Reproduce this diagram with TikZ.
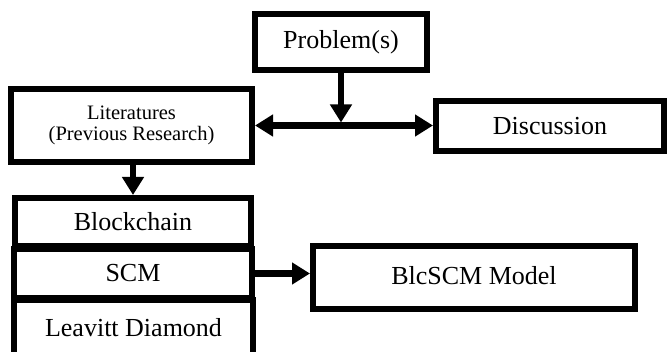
\documentclass[tikz,border=0pt]{standalone}
\usepackage{fontspec}
\setmainfont{Liberation Serif}
\usetikzlibrary{arrows.meta}
\begin{document}
\begin{tikzpicture}[x=1pt,y=1pt,
  box/.style={draw=black,line width=6pt,fill=white,rectangle,inner sep=0pt,
    font=\fontsize{26}{28}\selectfont},
  conn/.style={line width=6.5pt,-{Triangle[length=18pt,width=21pt]}},
  dconn/.style={line width=6.5pt,{Triangle[length=18pt,width=21pt]}-{Triangle[length=18pt,width=21pt]}}]
  \useasboundingbox (0,0) rectangle (667,-352);
  \clip (0,0) rectangle (667,-352);

  % top row
  \node[box,minimum width=172pt,minimum height=56pt] (prob) at (341,-42)
        {\raisebox{-3pt}{Problem(s)}};
  \node[box,minimum width=241pt,minimum height=73pt,align=center,
        font=\fontsize{20.5}{21}\selectfont] (lit) at (131.5,-125.5)
        {Literatures\\(Previous Research)};
  \node[box,minimum width=228pt,minimum height=50pt] (disc) at (550,-126)
        {\raisebox{-2.5pt}{Discussion}};

  % stacked topics
  \node[box,minimum width=236pt,minimum height=48pt] (blk) at (133,-222)
        {\raisebox{-2pt}{Blockchain}};
  \node[box,minimum width=238pt,minimum height=49pt] (scm) at (133,-273.5) {SCM};
  \node[box,minimum width=239pt,minimum height=58pt,text depth=0pt] (ld) at (133.5,-329)
        {\raisebox{4pt}{Leavitt Diamond}};

  % resulting model
  \node[box,minimum width=322pt,minimum height=63pt] (model) at (474,-277.5)
        {\raisebox{4pt}{BlcSCM Model}};

  % connectors
  \coordinate (junc) at (prob.south |- lit.east);
  \draw[dconn] (lit.east) -- (lit.east -| disc.west);
  \draw[conn] (prob.south) -- ([yshift=3pt]junc);
  \draw[conn] (lit.south -| blk.north) -- (blk.north);
  \draw[conn] (scm.east) -- (scm.east -| model.west);
\end{tikzpicture}
\end{document}
